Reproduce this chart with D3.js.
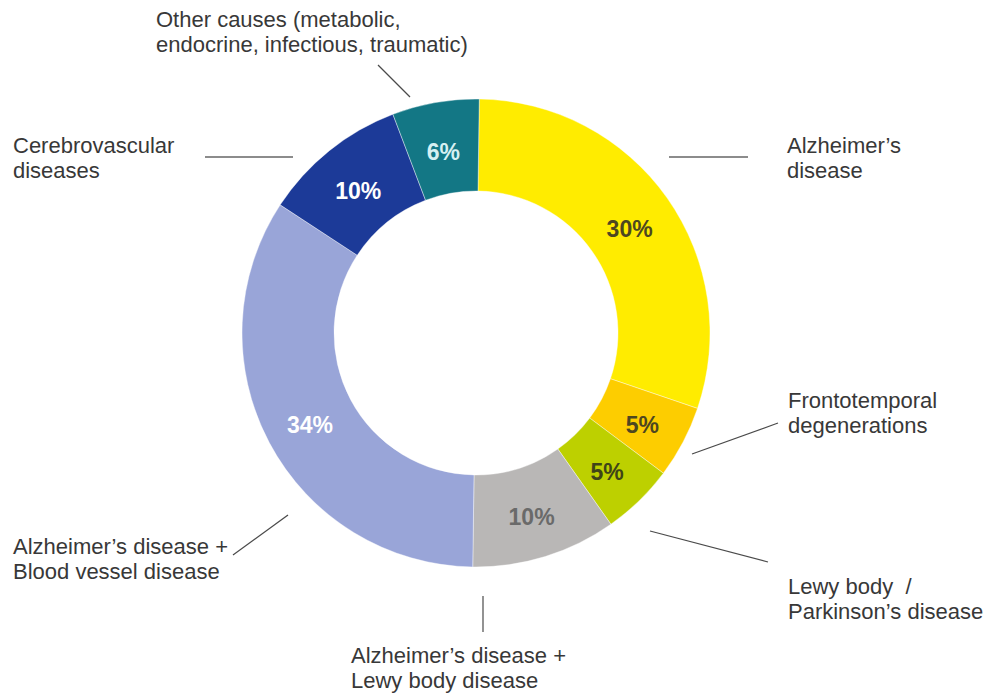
<!DOCTYPE html>
<html>
<head>
<meta charset="utf-8">
<script src="https://cdn.jsdelivr.net/npm/d3@7"></script>
<style>
  html, body { margin: 0; padding: 0; background: #fff; }
  svg { display: block; }
  text { font-family: "Liberation Sans", Arial, Helvetica, sans-serif; }
</style>
</head>
<body>
<svg id="chart" width="987" height="695"></svg>
<script>
// Causes of dementia, share of cases (%), clockwise from 12 o'clock
const categories = [
  "Alzheimer’s disease",
  "Frontotemporal degenerations",
  "Lewy body / Parkinson’s disease",
  "Alzheimer’s disease + Lewy body disease",
  "Alzheimer’s disease + Blood vessel disease",
  "Cerebrovascular diseases",
  "Other causes (metabolic, endocrine, infectious, traumatic)"
];
const values = [30, 5, 5, 10, 34, 10, 6];
const sliceColors = ["#FFEC00", "#FDCD00", "#BDD000", "#B9B7B6", "#99A5D8", "#1C3A98", "#137785"];
const valueLabelColors = ["#4d4720", "#4d4720", "#3f4418", "#6a6a6a", "#ffffff", "#ffffff", "#d6f0f2"];

// Label text split into lines, with the text origin and leader line for each slice
const labelLines = [
  ["Alzheimer’s", "disease"],
  ["Frontotemporal", "degenerations"],
  ["Lewy body  /", "Parkinson’s disease"],
  ["Alzheimer’s disease +", "Lewy body disease"],
  ["Alzheimer’s disease +", "Blood vessel disease"],
  ["Cerebrovascular", "diseases"],
  ["Other causes (metabolic,", "endocrine, infectious, traumatic)"]
];
const labelAnchors = [[787, 153], [788, 408], [788, 594], [351, 663], [13, 554], [13, 153], [156, 27]];
const leaders = [
  { p: [[669, 157], [748, 157]], light: true },
  { p: [[692, 454], [778, 423]], light: false },
  { p: [[650, 531], [768, 562]], light: false },
  { p: [[483, 596], [483, 632]], light: false },
  { p: [[233, 555], [288, 515]], light: false },
  { p: [[205, 157], [293, 157]], light: true },
  { p: [[378, 65], [410, 97]], light: false }
];

const cx = 476, cy = 333, outerR = 234, innerR = 142;
const rotation = 0.8 * Math.PI / 180;
const svg = d3.select("#chart");
const g = svg.append("g").attr("transform", `translate(${cx},${cy})`);

const pie = d3.pie().sort(null).value(d => d)
  .startAngle(rotation).endAngle(2 * Math.PI + rotation);
const arcs = pie(values);
const arc = d3.arc().innerRadius(innerR).outerRadius(outerR);
const labelArc = d3.arc().innerRadius((innerR + outerR) / 2).outerRadius((innerR + outerR) / 2);

g.selectAll("path.slice")
  .data(arcs)
  .join("path")
  .attr("class", "slice")
  .attr("d", arc)
  .attr("fill", (d, i) => sliceColors[i])
  .attr("stroke", "#ffffff")
  .attr("stroke-width", 0.4);

g.selectAll("text.value")
  .data(arcs)
  .join("text")
  .attr("class", "value")
  .attr("x", d => labelArc.centroid(d)[0])
  .attr("y", d => labelArc.centroid(d)[1] + 4)
  .attr("text-anchor", "middle")
  .attr("dominant-baseline", "central")
  .attr("font-size", 23)
  .attr("font-weight", "bold")
  .attr("fill", (d, i) => valueLabelColors[i])
  .text(d => d.data + "%");

// Leader lines
svg.selectAll("line.leader")
  .data(leaders)
  .join("line")
  .attr("class", "leader")
  .attr("x1", d => d.p[0][0]).attr("y1", d => d.p[0][1])
  .attr("x2", d => d.p[1][0]).attr("y2", d => d.p[1][1])
  .attr("stroke", d => d.light ? "#8c8c8c" : "#4a4a4a")
  .attr("stroke-width", d => d.light ? 2 : 1.2);

// Category labels
const lbl = svg.selectAll("text.cat")
  .data(categories)
  .join("text")
  .attr("class", "cat")
  .attr("font-size", 22)
  .attr("fill", "#383838")
  .attr("xml:space", "preserve")
  .style("white-space", "pre");

lbl.each(function (d, i) {
  const t = d3.select(this);
  labelLines[i].forEach((line, k) => {
    t.append("tspan")
      .attr("x", labelAnchors[i][0])
      .attr("y", labelAnchors[i][1] + k * 25)
      .text(line);
  });
});
</script>
</body>
</html>
